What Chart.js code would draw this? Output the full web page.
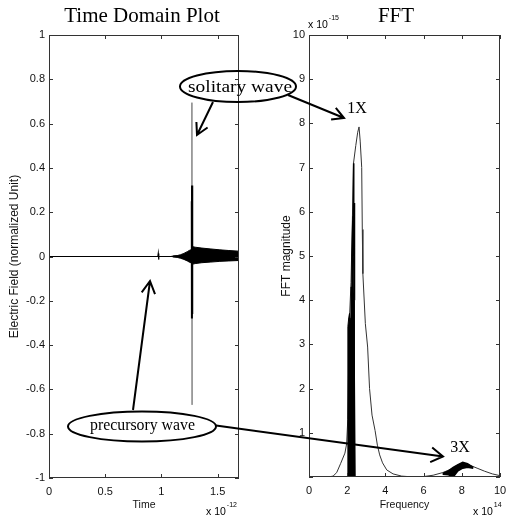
<!DOCTYPE html>
<html lang="en">
<head>
<meta charset="UTF-8" />
<title>Time Domain Plot / FFT</title>
<script src="https://cdn.jsdelivr.net/npm/chart.js"></script>
<style>
  body { margin: 0; background: #fff; }
  .wrap { position: relative; width: 516px; height: 520px; }
  canvas { position: absolute; top: 0; }
  #timeChart { left: 0; }
  #fftChart { left: 258px; }
  #notes { position: absolute; left: 0; top: 0; pointer-events: none; }
  #notes text { font-family: "Liberation Serif", "Times New Roman", serif; fill: #000; }
</style>
</head>
<body>
<div class="wrap">
  <canvas id="timeChart" width="258" height="520"></canvas>
  <canvas id="fftChart" width="258" height="520"></canvas>
  <svg id="notes" width="516" height="520">
    <g fill="none" stroke="#000" stroke-width="2">
      <ellipse cx="238" cy="86.5" rx="58" ry="15.5"/>
      <ellipse cx="142" cy="426.5" rx="74" ry="15"/>
      <path id="arrows"/>
    </g>
    <text x="240" y="92" font-size="17" text-anchor="middle" textLength="104" lengthAdjust="spacingAndGlyphs">solitary wave</text>
    <text x="142.5" y="430" font-size="16" text-anchor="middle" textLength="105" lengthAdjust="spacingAndGlyphs">precursory wave</text>
    <text x="357" y="113" font-size="16" text-anchor="middle">1X</text>
    <text x="460" y="452" font-size="16" text-anchor="middle">3X</text>
  </svg>
</div>

<script>
  // ---- time domain (x in 1e-12 s, y normalized) ----
  const timeTrace = [[0, 0], [0.968, 0], [0.972, 0.014], [0.975, -0.014], [0.978, 0], [1.08, 0], [1.12, 0.002], [1.69, 0]];
  const preUpper = [[1.10, 0.002], [1.14, 0.004], [1.17, 0.008], [1.20, 0.014], [1.23, 0.022], [1.25, 0.028], [1.272, 0.032]];
  const preLower = [[1.10, -0.002], [1.14, -0.004], [1.17, -0.008], [1.20, -0.013], [1.23, -0.02], [1.25, -0.026], [1.272, -0.03]];
  const postUpper = [[1.272, 0.045], [1.30, 0.042], [1.36, 0.038], [1.44, 0.034], [1.52, 0.03], [1.60, 0.027], [1.69, 0.024]];
  const postLower = [[1.272, -0.035], [1.30, -0.032], [1.36, -0.028], [1.44, -0.025], [1.52, -0.022], [1.60, -0.02], [1.69, -0.018]];
  const spikeThin = [[1.2715, 0.695], [1.2725, -0.67]];
  const spikeCore = [[1.270, 0.25], [1.2712, -0.28], [1.2722, 0.32], [1.2732, -0.26], [1.2742, 0.18], [1.2752, -0.15]];

  // ---- FFT (x in 1e14, y in 1e-15) ----
  const fftSmooth = [[0, 0], [1.0, 0], [1.26, 0.02], [1.45, 0.1], [1.66, 0.31], [1.88, 0.54], [1.97, 0.75], [2.03, 1.3],
    [2.07, 2.4], [2.12, 3.6], [2.2, 4.4], [2.27, 5.8], [2.33, 7.1], [2.45, 7.5], [2.55, 7.8], [2.62, 7.92], [2.68, 7.6],
    [2.76, 7.0], [2.79, 5.6], [2.82, 4.6], [2.95, 3.47], [3.07, 2.94], [3.17, 2.0], [3.3, 1.4], [3.46, 1.05], [3.58, 0.72],
    [3.7, 0.5], [3.85, 0.32], [4.07, 0.16], [4.4, 0.07], [4.85, 0.02], [5.5, 0], [6.0, 0.01], [6.5, 0.04], [7.0, 0.1],
    [7.5, 0.19], [7.8, 0.26], [8.1, 0.3], [8.4, 0.27], [8.8, 0.2], [9.2, 0.13], [9.6, 0.07], [10, 0.03]];
  // dark, densely sampled part around the fundamental
  const fftDenseLow = [[2.02, 0], [2.03, 2.2], [2.04, 3.4], [2.08, 3.6], [2.12, 3.7], [2.16, 3.5], [2.2, 3.6],
    [2.26, 3.4], [2.32, 3.1], [2.38, 2.4], [2.42, 0]];
  const fftDenseMid = [[2.18, 0], [2.19, 3.5], [2.2, 4.3], [2.24, 5.0], [2.28, 5.8], [2.32, 5.2], [2.36, 4.0], [2.37, 0]];
  const fftDenseSpikes = [[2.26, 5.0], [2.28, 5.9], [2.3, 5.0], [2.33, 7.1], [2.35, 5.0], [2.37, 6.2], [2.39, 4.0]];
  // dark part around the third harmonic
  const bumpUpper = [[7.0, 0.08], [7.3, 0.14], [7.55, 0.22], [7.8, 0.28], [8.05, 0.33], [8.3, 0.3], [8.6, 0.22]];
  const bumpLower = [[7.0, 0.06], [7.3, 0.05], [7.55, 0.0], [7.8, 0.14], [8.05, 0.2], [8.3, 0.22], [8.6, 0.2]];

  const sans = '"Liberation Sans", Arial, sans-serif';
  Chart.defaults.font.family = sans;
  Chart.defaults.font.size = 11;
  Chart.defaults.color = '#111';

  // MATLAB style box with inward ticks, title and exponent labels
  const deco = {
    id: 'deco',
    afterDraw(chart, args, opts) {
      const { ctx, chartArea: a, scales: { x, y } } = chart;
      ctx.save();
      ctx.strokeStyle = '#333';
      ctx.lineWidth = 1;
      ctx.strokeRect(a.left + 0.5, a.top + 0.5, a.width - 1, a.height - 1);
      ctx.beginPath();
      for (const t of x.ticks) {
        const px = Math.round(x.getPixelForValue(t.value)) + 0.5;
        ctx.moveTo(px, a.bottom); ctx.lineTo(px, a.bottom - 4);
        ctx.moveTo(px, a.top); ctx.lineTo(px, a.top + 4);
      }
      for (const t of y.ticks) {
        const py = Math.round(y.getPixelForValue(t.value)) + 0.5;
        ctx.moveTo(a.left, py); ctx.lineTo(a.left + 4, py);
        ctx.moveTo(a.right, py); ctx.lineTo(a.right - 4, py);
      }
      ctx.stroke();

      ctx.fillStyle = '#000';
      ctx.font = '21px "Liberation Serif", "Times New Roman", serif';
      ctx.textAlign = 'center';
      ctx.textBaseline = 'middle';
      ctx.fillText(opts.title, opts.titleX, 16);

      ctx.textAlign = 'left';
      for (const m of opts.mult) {
        ctx.font = '10.5px ' + sans;
        ctx.fillText('x 10', m.x, m.y);
        const w = ctx.measureText('x 10').width;
        ctx.font = '7px ' + sans;
        ctx.fillText(m.exp, m.x + w + 1, m.y - 7);
      }
      ctx.restore();
    }
  };

  const plain = v => String(Math.round(v * 10) / 10);

  function line(data, color, width, extra) {
    return Object.assign({ data, borderColor: color, borderWidth: width, pointRadius: 0, fill: false, tension: 0 }, extra || {});
  }

  function axisX(min, max, step, text, height) {
    return {
      type: 'linear', min, max,
      grid: { display: false, drawTicks: false }, border: { display: false },
      ticks: { stepSize: step, includeBounds: false, padding: 7, maxRotation: 0, callback: plain },
      title: { display: true, text, color: '#111', font: { size: 10.5 }, padding: { top: 0, bottom: 8.7 } },
      afterFit(s) { s.height = height; }
    };
  }

  function axisY(min, max, step, text, width, titlePad, cb) {
    return {
      min, max,
      grid: { display: false, drawTicks: false }, border: { display: false },
      ticks: { stepSize: step, padding: 4, callback: cb || plain },
      title: { display: true, text, color: '#111', font: { size: 12 }, padding: { top: titlePad, bottom: 0 } },
      afterFit(s) { s.width = width; }
    };
  }

  new Chart(document.getElementById('timeChart'), {
    type: 'line',
    data: {
      datasets: [
        line(spikeCore, '#000', 2),
        line(spikeThin, '#444', 1),
        line(preUpper, '#000', 1),
        line(preLower, '#000', 1, { fill: '-1', backgroundColor: '#000' }),
        line(postUpper, '#000', 1),
        line(postLower, '#000', 1, { fill: '-1', backgroundColor: '#000' }),
        line(timeTrace, '#000', 1.2)
      ]
    },
    options: {
      responsive: false,
      animation: false,
      layout: { padding: { top: 35, right: 19, left: 0, bottom: 0 } },
      plugins: {
        legend: { display: false },
        tooltip: { enabled: false },
        deco: { title: 'Time Domain Plot', titleX: 142, mult: [{ x: 206, y: 512, exp: '-12' }] }
      },
      scales: {
        x: axisX(0, 1.69, 0.5, 'Time', 42),
        y: axisY(-1, 1, 0.2, 'Electric Field (normalized Unit)', 49, 7)
      }
    },
    plugins: [deco]
  });

  new Chart(document.getElementById('fftChart'), {
    type: 'line',
    data: {
      datasets: [
        line(bumpUpper, '#000', 1.5),
        line(bumpLower, '#000', 1.5, { fill: '-1', backgroundColor: '#000' }),
        line(fftDenseSpikes, '#000', 1.2),
        line(fftDenseMid, '#000', 1, { fill: 'origin', backgroundColor: '#000' }),
        line(fftDenseLow, '#000', 1, { fill: 'origin', backgroundColor: '#000' }),
        line(fftSmooth, '#333', 1)
      ]
    },
    options: {
      responsive: false,
      animation: false,
      layout: { padding: { top: 35, right: 16, left: 0, bottom: 0 } },
      plugins: {
        legend: { display: false },
        tooltip: { enabled: false },
        deco: {
          title: 'FFT', titleX: 138,
          mult: [{ x: 50, y: 25, exp: '-15' }, { x: 215, y: 512, exp: '14' }]
        }
      },
      scales: {
        x: axisX(0, 10, 2, 'Frequency', 43),
        y: axisY(0, 10, 1, 'FFT magnitude', 51, 21, v => (v === 0 ? '' : plain(v)))
      }
    },
    plugins: [deco]
  });

  // annotation arrows (open V heads)
  function arrow(x1, y1, x2, y2, len, ang) {
    const a = Math.atan2(y2 - y1, x2 - x1);
    const p = s => (x2 - len * Math.cos(a + s * ang)).toFixed(1) + ' ' + (y2 - len * Math.sin(a + s * ang)).toFixed(1);
    return `M${x1} ${y1}L${x2} ${y2}M${p(1)}L${x2} ${y2}L${p(-1)}`;
  }
  document.getElementById('arrows').setAttribute('d', [
    arrow(213, 102, 197, 135, 13, 0.5),
    arrow(288, 95, 344, 118, 13, 0.5),
    arrow(133, 410, 150, 281, 14, 0.5),
    arrow(216, 425.5, 443, 456.5, 14, 0.55)
  ].join(''));
</script>
</body>
</html>
